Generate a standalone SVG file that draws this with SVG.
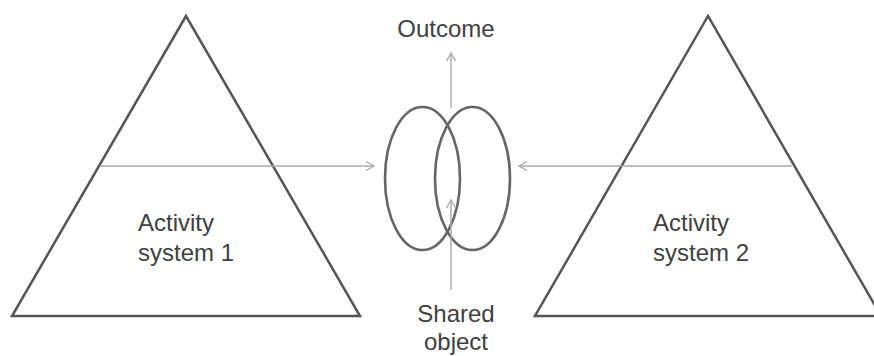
<svg xmlns="http://www.w3.org/2000/svg" width="874" height="356" viewBox="0 0 874 356">
  <style>
    .tri { fill: none; stroke: #555; stroke-width: 2.5; stroke-linejoin: miter; }
    .ring { fill: none; stroke: #666; stroke-width: 2.6; }
    .link { fill: none; stroke: #aaa; stroke-width: 1.4; marker-end: url(#open); }
    text { font-family: "Liberation Sans", Arial, sans-serif; font-size: 24px; fill: #404040; }
  </style>
  <defs>
    <marker id="open" markerWidth="12" markerHeight="12" refX="10" refY="6" orient="auto" markerUnits="userSpaceOnUse">
      <path d="M2,1.5 L10,6 L2,10.5" fill="none" stroke="#aaa" stroke-width="1.4"/>
    </marker>
  </defs>
  <rect width="874" height="356" fill="#fff"/>

  <g id="activity-system-1">
    <polygon class="tri" points="186,16 12,316 360,316"/>
    <text x="138" y="231">Activity</text>
    <text x="138" y="261">system 1</text>
  </g>

  <g id="activity-system-2">
    <polygon class="tri" points="708,16 535,316 881,316"/>
    <text x="653" y="231">Activity</text>
    <text x="653" y="261">system 2</text>
  </g>

  <g id="shared-object">
    <ellipse class="ring" cx="422.5" cy="178.5" rx="37.5" ry="71.5"/>
    <ellipse class="ring" cx="472.5" cy="178.5" rx="37.5" ry="71.5"/>
  </g>

  <g id="outcome-label">
    <text x="446" y="37" text-anchor="middle">Outcome</text>
  </g>

  <g id="shared-object-label">
    <text x="456" y="322" text-anchor="middle">Shared</text>
    <text x="456" y="350" text-anchor="middle">object</text>
  </g>

  <g id="connectors">
    <line class="link" x1="100" y1="166" x2="374" y2="166"/>
    <line class="link" x1="792" y1="166" x2="519" y2="166"/>
    <line class="link" x1="451" y1="108" x2="451" y2="53"/>
    <line class="link" x1="451" y1="290" x2="451" y2="200"/>
  </g>
</svg>
